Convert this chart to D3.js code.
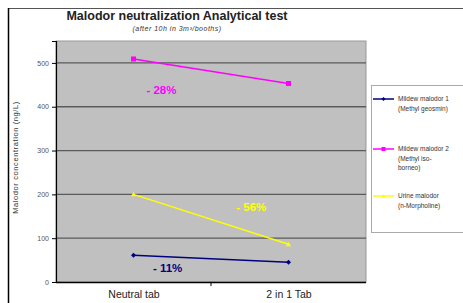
<!DOCTYPE html>
<html>
<head>
<meta charset="utf-8">
<script src="https://cdn.jsdelivr.net/npm/d3@7"></script>
<style>
  body { margin: 0; background: #fff; }
  text { font-family: Arial, "Liberation Sans", sans-serif; }
</style>
</head>
<body>
<div id="chart"></div>
<script>
const WIDTH = 463;
const HEIGHT = 303;

const categories = ["Neutral tab", "2 in 1 Tab"];
const yTicks = [0, 100, 200, 300, 400, 500];
const mildew1 = [61, 45];
const mildew2 = [509, 453];
const urine = [200, 86];
const changeLabels = ["- 11%", "- 28%", "- 56%"];

const series = [
  { values: mildew1, color: "#000080", marker: "diamond", legend: ["Mildew malodor 1", "(Methyl geosmin)"],
    label: changeLabels[0], lx: 0.36, lv: 30 },
  { values: mildew2, color: "#ff00ff", marker: "square", legend: ["Mildew malodor 2", "(Methyl iso-", "borneo)"],
    label: changeLabels[1], lx: 0.34, lv: 435 },
  { values: urine, color: "#ffff00", marker: "triangle", legend: ["Urine malodor", "(n-Morpholine)"],
    label: changeLabels[2], lx: 0.63, lv: 168 }
];

const plot = { left: 56, right: 366, top: 41, bottom: 282 };

const svg = d3.select("#chart").append("svg")
  .attr("width", WIDTH)
  .attr("height", HEIGHT);

// outer frame
svg.append("line").attr("x1", 8).attr("x2", WIDTH).attr("y1", 8.5).attr("y2", 8.5)
  .style("stroke", "#555").style("stroke-width", 1);
svg.append("line").attr("x1", 8.5).attr("x2", 8.5).attr("y1", 8).attr("y2", HEIGHT)
  .style("stroke", "#000").style("stroke-width", 1.5);

// titles
svg.append("text").attr("x", 177).attr("y", 20).attr("text-anchor", "middle")
  .style("font-size", "12.5px").style("font-weight", "bold").style("fill", "#222")
  .text("Malodor neutralization Analytical test");
svg.append("text").attr("x", 177).attr("y", 31).attr("text-anchor", "middle")
  .style("font-size", "7px").style("font-style", "italic").style("fill", "#333")
  .style("letter-spacing", "0.5px")
  .text("(after 10h in 3m³/booths)");

const x = d3.scalePoint().domain(categories).range([plot.left, plot.right]).padding(0.5);
const y = d3.scaleLinear().domain([0, 550]).range([plot.bottom, plot.top]);

// plot background
svg.append("rect")
  .attr("x", plot.left).attr("y", plot.top)
  .attr("width", plot.right - plot.left).attr("height", plot.bottom - plot.top)
  .style("fill", "#c0c0c0").style("stroke", "#999");

// gridlines
svg.append("g").selectAll("line").data(yTicks.filter(d => d > 0)).enter().append("line")
  .attr("x1", plot.left).attr("x2", plot.right)
  .attr("y1", d => y(d)).attr("y2", d => y(d))
  .style("stroke", "#5a5a5a").style("stroke-width", 1.3);

// y axis
const yAxis = svg.append("g").attr("transform", `translate(${plot.left},0)`)
  .call(d3.axisLeft(y).tickValues(yTicks).tickSize(4).tickPadding(3));
yAxis.select(".domain").style("stroke", "#000").style("stroke-width", 1.2);
yAxis.selectAll(".tick line").style("stroke", "#000");
yAxis.selectAll("text").style("font-size", "7px").style("fill", "#555")
  .style("font-family", "Arial, 'Liberation Sans', sans-serif");

// x axis
const xAxis = svg.append("g").attr("transform", `translate(0,${plot.bottom})`)
  .call(d3.axisBottom(x).tickSize(0).tickPadding(9));
xAxis.select(".domain").remove();
xAxis.selectAll("text").style("font-size", "10.5px").style("fill", "#222")
  .style("font-family", "Arial, 'Liberation Sans', sans-serif");
svg.append("line").attr("x1", plot.left).attr("x2", plot.right)
  .attr("y1", plot.bottom + 0.5).attr("y2", plot.bottom + 0.5)
  .style("stroke", "#000").style("stroke-width", 1.5);
svg.append("line").attr("x1", (plot.left + plot.right) / 2).attr("x2", (plot.left + plot.right) / 2)
  .attr("y1", plot.bottom).attr("y2", plot.bottom + 4)
  .style("stroke", "#000");

// y title
svg.append("text")
  .attr("transform", `translate(18,${(plot.top + plot.bottom) / 2 - 4}) rotate(-90)`)
  .attr("text-anchor", "middle")
  .style("font-size", "7.5px").style("fill", "#333").style("letter-spacing", "0.6px")
  .text("Malodor concentration (ng/L)");

const line = d3.line().x((d, i) => x(categories[i])).y(d => y(d));

function marker(g, type, color, cx, cy, s) {
  if (type === "diamond") {
    g.append("path").attr("d", `M${cx},${cy - s}L${cx + s},${cy}L${cx},${cy + s}L${cx - s},${cy}Z`).style("fill", color);
  } else if (type === "square") {
    g.append("rect").attr("x", cx - s).attr("y", cy - s).attr("width", 2 * s).attr("height", 2 * s).style("fill", color);
  } else {
    g.append("path").attr("d", `M${cx},${cy - s}L${cx + s},${cy + s * 0.8}L${cx - s},${cy + s * 0.8}Z`).style("fill", color);
  }
}

series.forEach(s => {
  const g = svg.append("g");
  g.append("path").datum(s.values).attr("d", line)
    .style("fill", "none").style("stroke", s.color).style("stroke-width", 1.5);
  s.values.forEach((v, i) => marker(g, s.marker, s.color, x(categories[i]), y(v), 2.5));
  g.append("text")
    .attr("x", plot.left + (plot.right - plot.left) * s.lx)
    .attr("y", y(s.lv))
    .attr("text-anchor", "middle").attr("dominant-baseline", "middle")
    .style("font-size", "11.5px").style("font-weight", "bold").style("fill", s.color)
    .text(s.label);
});

// legend
const legend = svg.append("g");
legend.append("rect").attr("x", 371.5).attr("y", 85.5).attr("width", 100).attr("height", 147)
  .style("fill", "#fff").style("stroke", "#aaa");
const legendY = [99, 149, 196];
series.forEach((s, k) => {
  const ly = legendY[k];
  legend.append("line").attr("x1", 373).attr("x2", 394).attr("y1", ly).attr("y2", ly)
    .style("stroke", s.color).style("stroke-width", 1.5);
  marker(legend, s.marker, s.color, 383.5, ly, 2);
  s.legend.forEach((t, j) => {
    legend.append("text").attr("x", 398).attr("y", ly + 2 + j * 9.5)
      .style("font-size", "6.5px").style("fill", "#333").text(t);
  });
});
</script>
</body>
</html>
